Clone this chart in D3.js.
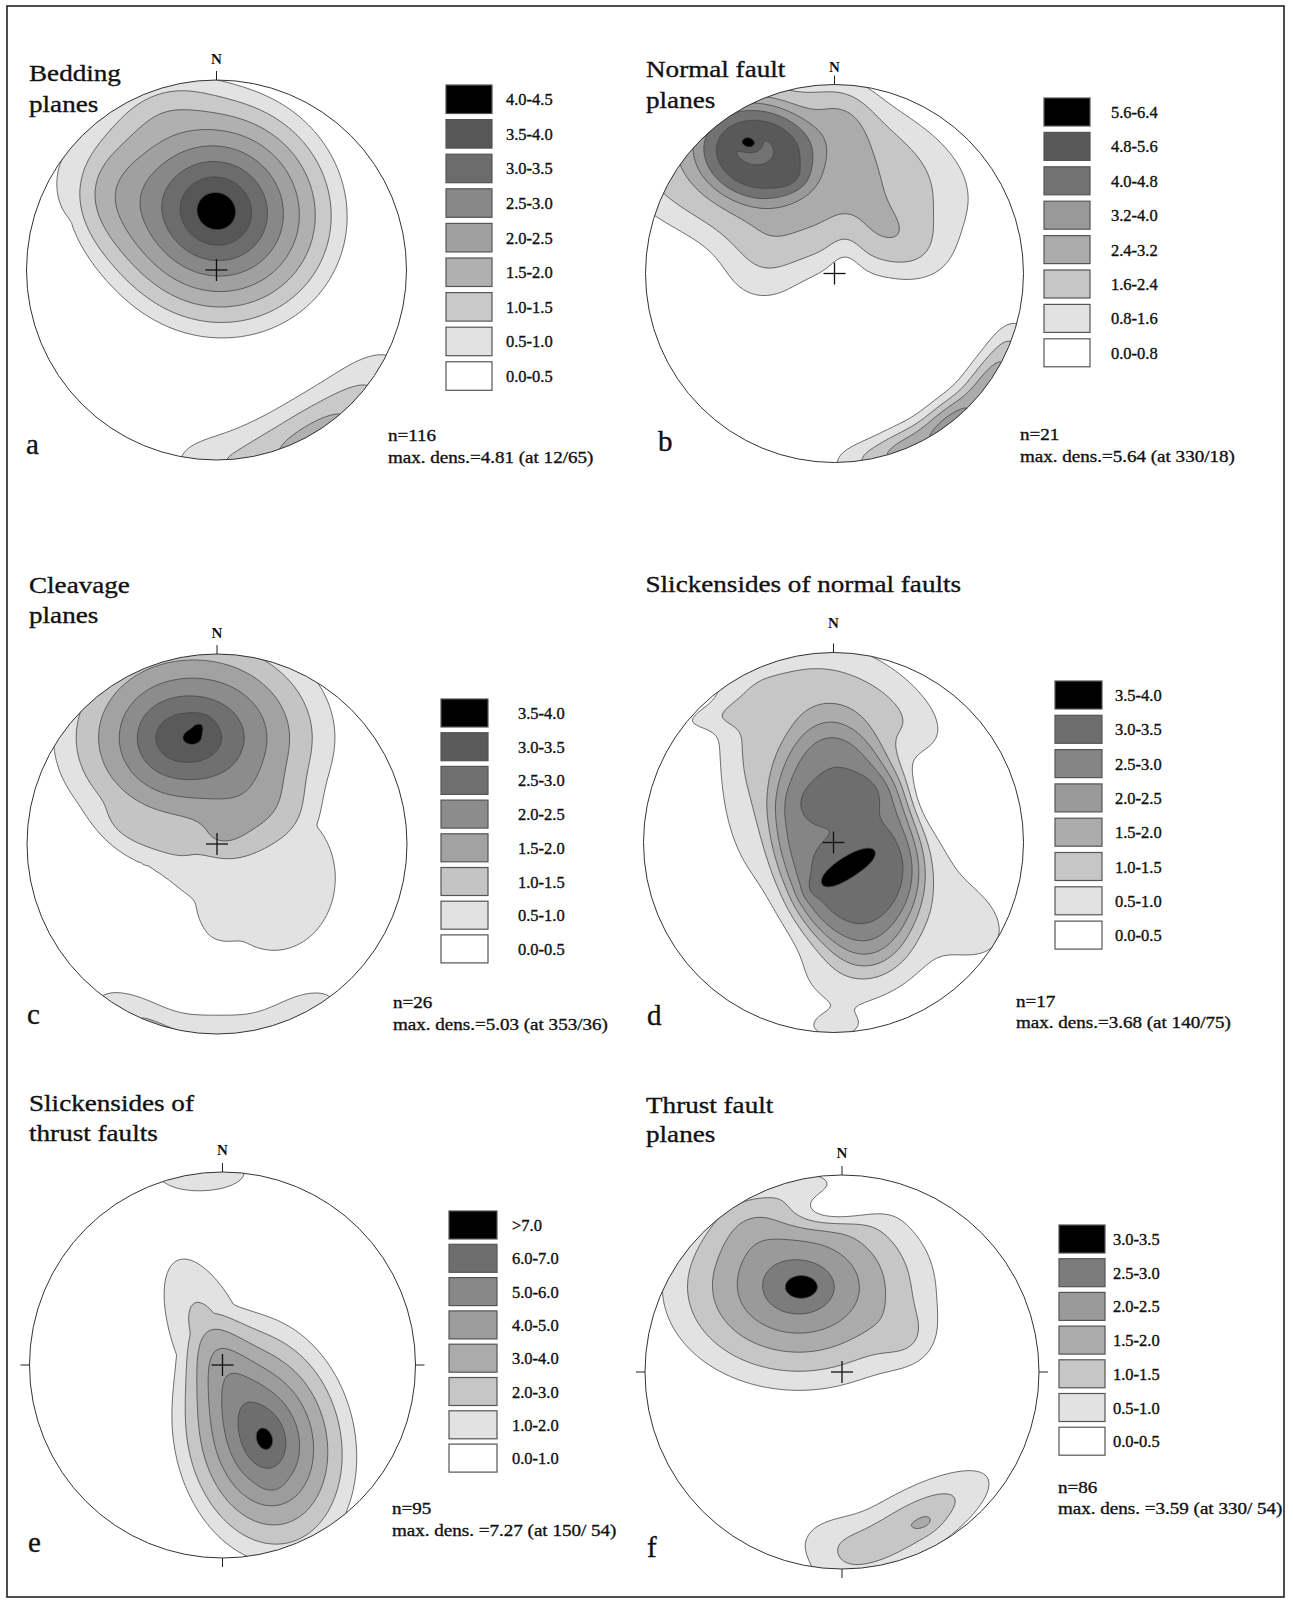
<!DOCTYPE html>
<html><head><meta charset="utf-8">
<script src="https://cdn.jsdelivr.net/npm/d3@7"></script>
<style>
body{margin:0;background:#fff}
svg{display:block}
text{font-family:"Liberation Serif","Times New Roman",serif;fill:#111;stroke:#111;stroke-width:0.35px}
</style>
</head><body>
<svg id="chart" width="1293" height="1602"></svg>
<script>
// ---------------- DATA ----------------
// pole-density concentrations read from each net:
// [x, y (unit net coords, y down), weight, spreadX, spreadY, rotationDeg, shape (>0 gaussian power, -1 cone)]
const kernelsA = [
  [0.00,-0.31, 4.6, 0.78,0.74, 28, -1],
  [-0.66,-0.45, 0.75, 0.20,0.26, 0, 1],
  [-0.33,-0.90, 0.5, 0.22,0.12, -20, 1],
  [0.79,0.66, 0.8, 0.24,0.15, 130, 1],
  [0.52,0.88, 1.2, 0.22,0.15, 150, 1],
  [0.18,1.00, 0.85, 0.24,0.14, 170, 1],
  [-0.10,1.00, 0.3, 0.15,0.10, 5, 1]
];
const kernelsB = [
  [-0.41,-0.64, 2.8, 0.27,0.22, 15, 2],
  [-0.27,-0.56, 2.6, 0.80,0.40, 12, 2],
  [-0.42,-0.65,-0.75, 0.12,0.09, 15, 2],
  [-0.455,-0.693, 1.5, 0.035,0.025, 10, 1],
  [-0.225,-0.50, 0.4, 0.07,0.05, 0, 1],
  [-0.38,-0.02, 1.1, 0.18,0.16, 0, 1],
  [0.38,-0.12, 1.0, 0.18,0.13, 20, 1],
  [0.06,-0.10,-0.6, 0.07,0.12, 0, 1],
  [0.05,-0.85, 0.7, 0.12,0.15, 0, 1],
  [0.819,0.574, 2.4, 0.14,0.085, 125, 1],
  [0.616,0.788, 3.0, 0.14,0.085, 142, 1],
  [0.375,0.927, 2.2, 0.14,0.085, 158, 1],
  [0.927,0.375, 1.1, 0.12,0.08, 112, 1],
  [0.139,0.990, 1.1, 0.14,0.08, 172, 1]
];
const kernelsC = [
  [-0.086,-0.63, 0.25, 0.035,0.03, 0, 1],
  [-0.12,-0.56, 3.6, 0.86,0.70, 0, -1],
  [-0.30,-0.55, 0.25, 0.12,0.15, 0, 1],
  [0.30,0.18, 0.75, 0.34,0.40, 0, 2],
  [-0.32,0.08, 0.5, 0.32,0.12, 35, 2],
  [-0.02,0.42, 0.3, 0.12,0.10, 0, 2],
  [-0.05,0.00, 0.3, 0.15,0.07, 0, 1],
  [-0.42,0.91, 0.9, 0.20,0.09, 25, 1],
  [0.00,1.00, 0.85, 0.22,0.09, 0, 1],
  [0.42,0.91, 0.85, 0.20,0.09, 155, 1]
];
const kernelsD = [
  [0.07,0.00, 2.2, 0.34,0.56, -13, 3],
  [-0.05,-0.15, 0.75, 0.42,0.80, -13, 2],
  [0.03,-0.75, 0.7, 0.30,0.20, -10, 1],
  [-0.45,-0.82, 0.2, 0.30,0.12, -20, 1],
  [0.40,-0.62, 0.55, 0.20,0.13, 30, 1],
  [-0.62,-0.66, 0.4, 0.20,0.05, -10, 1],
  [-0.45,-0.40, 0.45, 0.12,0.35, 0, 1],
  [0.20,0.65, 0.5, 0.30,0.15, -20, 1],
  [0.00,0.98, 0.45, 0.16,0.07, 0, 1],
  [0.55,0.20, 0.5, 0.20,0.30, -30, 1],
  [0.75,0.45, 0.45, 0.15,0.12, 40, 1],
  [0.50,-0.25,-0.4, 0.08,0.12, 0, 1],
  [0.06,-0.25, 0.4, 0.17,0.07, -10, 1],
  [0.15,0.22, 0.35, 0.27,0.20, -20, 2],
  [0.045,0.145, 0.45, 0.16,0.048, -34, 1.5]
];
const kernelsE = [
  [0.225,0.39, 6.7, 0.53,0.72, -12, -1],
  [-0.07,-0.14, 1.9, 0.12,0.30, -22, 1],
  [0.08,0.20, 0.65, 0.30,0.70, -20, 1],
  [0.255,0.61, 0.4, 0.04,0.03, 0, 1],
  [-0.10,-1.00, 1.5, 0.22,0.09, 0, 1]
];
const kernelsF = [
  [-0.19,-0.433, 0.4, 0.05,0.035, 0, 1],
  [-0.22,-0.43, 3.2, 0.82,0.62, 0, -1],
  [-0.48,-0.78, 0.35, 0.14,0.14, 0, 1],
  [-0.02,-0.84,-1.0, 0.15,0.06, -10, 1],
  [-0.22,-0.97, 0.4, 0.12,0.05, 0, 1],
  [0.36,-0.15, 0.5, 0.12,0.12, 0, 1],
  [0.34,0.78, 1.0, 0.30,0.09, -32, 1],
  [0.30,0.78, 0.45, 0.40,0.20, -25, 1],
  [-0.05,0.86, 0.45, 0.15,0.10, 0, 1],
  [0.43,0.77, 0.25, 0.05,0.03, -30, 1]
];

const levelsA = [0.5,1.0,1.5,2.0,2.5,3.0,3.5,4.0];
const levelsB = [0.8,1.6,2.4,3.2,4.0,4.8,5.6];
const levelsC = [0.5,1.0,1.5,2.0,2.5,3.0,3.5];
const levelsD = [0.5,1.0,1.5,2.0,2.5,3.0,3.5];
const levelsE = [1,2,3,4,5,6,7];
const levelsF = [0.5,1.0,1.5,2.0,2.5,3.0];

const labelsA = ["4.0-4.5","3.5-4.0","3.0-3.5","2.5-3.0","2.0-2.5","1.5-2.0","1.0-1.5","0.5-1.0","0.0-0.5"];
const labelsB = ["5.6-6.4","4.8-5.6","4.0-4.8","3.2-4.0","2.4-3.2","1.6-2.4","0.8-1.6","0.0-0.8"];
const labelsC = ["3.5-4.0","3.0-3.5","2.5-3.0","2.0-2.5","1.5-2.0","1.0-1.5","0.5-1.0","0.0-0.5"];
const labelsD = ["3.5-4.0","3.0-3.5","2.5-3.0","2.0-2.5","1.5-2.0","1.0-1.5","0.5-1.0","0.0-0.5"];
const labelsE = [">7.0","6.0-7.0","5.0-6.0","4.0-5.0","3.0-4.0","2.0-3.0","1.0-2.0","0.0-1.0"];
const labelsF = ["3.0-3.5","2.5-3.0","2.0-2.5","1.5-2.0","1.0-1.5","0.5-1.0","0.0-0.5"];

const titles = [["Bedding","planes"],["Normal fault","planes"],["Cleavage","planes"],["Slickensides of normal faults"],["Slickensides of","thrust faults"],["Thrust fault","planes"]];
const letters = ["a","b","c","d","e","f"];
const counts = ["n=116","n=21","n=26","n=17","n=95","n=86"];
const maxima = ["max. dens.=4.81 (at 12/65)","max. dens.=5.64 (at 330/18)","max. dens.=5.03 (at 353/36)","max. dens.=3.68 (at 140/75)","max. dens. =7.27 (at 150/ 54)","max. dens. =3.59 (at 330/ 54)"];

// ---------------- STYLE / LAYOUT ----------------
const colorsA = ["#ffffff","#e2e2e2","#c9c9c9","#b0b0b0","#a0a0a0","#888888","#6c6c6c","#575757","#000000"];
const colorsB = ["#ffffff","#e2e2e2","#c6c6c6","#ababab","#999999","#727272","#595959","#000000"];
const colorsC = ["#ffffff","#e2e2e2","#c4c4c4","#a2a2a2","#8c8c8c","#707070","#5a5a5a","#000000"];
const colorsD = ["#ffffff","#e2e2e2","#c6c6c6","#acacac","#9a9a9a","#858585","#6e6e6e","#000000"];
const colorsE = ["#ffffff","#e2e2e2","#c6c6c6","#ababab","#9c9c9c","#888888","#6e6e6e","#000000"];
const colorsF = ["#ffffff","#e2e2e2","#c6c6c6","#ababab","#9a9a9a","#7c7c7c","#000000"];

const layout = [
 {cx:216.5,cy:270,r:190, tx:29, ty:[81,111.5], ny:64, lx:446, ly:85, ls:34.6, lw:46, lh:28.5, lt:506, ax:26, ay:454, nx:388, nty:[441,463], four:false},
 {cx:834.5,cy:273.5,r:189, tx:646, ty:[77,108], ny:72, lx:1044, ly:98, ls:34.4, lw:46, lh:28, lt:1111, ax:658, ay:451, nx:1020, nty:[440,462], four:false},
 {cx:217,cy:844,r:190, tx:29, ty:[593,623], ny:638, lx:441, ly:699, ls:33.7, lw:47, lh:28, lt:518, ax:27, ay:1024, nx:393, nty:[1008,1030], four:false},
 {cx:833.5,cy:842.5,r:190, tx:645.5, ty:[592], ny:628, lx:1055, ly:681, ls:34.3, lw:47, lh:28, lt:1115, ax:647, ay:1025, nx:1016, nty:[1007,1028], four:false},
 {cx:222.5,cy:1365,r:193, tx:29, ty:[1111,1141], ny:1155, lx:449, ly:1211, ls:33.3, lw:48, lh:28, lt:512, ax:28, ay:1552, nx:392, nty:[1514,1536], four:true},
 {cx:842,cy:1372,r:197, tx:646, ty:[1113,1142], ny:1158, lx:1059, ly:1225, ls:33.7, lw:46, lh:28, lt:1113, ax:647, ay:1557, nx:1058, nty:[1493,1514], four:true}
];

const panels = [
 {kernels:kernelsA, levels:levelsA, labels:labelsA, colors:colorsA},
 {kernels:kernelsB, levels:levelsB, labels:labelsB, colors:colorsB},
 {kernels:kernelsC, levels:levelsC, labels:labelsC, colors:colorsC},
 {kernels:kernelsD, levels:levelsD, labels:labelsD, colors:colorsD},
 {kernels:kernelsE, levels:levelsE, labels:labelsE, colors:colorsE},
 {kernels:kernelsF, levels:levelsF, labels:labelsF, colors:colorsF}
];

// ---------------- DRAW ----------------
const svg = d3.select("#chart");
svg.append("rect").attr("x",7).attr("y",6).attr("width",1277).attr("height",1591)
   .attr("fill","none").attr("stroke","#222").attr("stroke-width",1.6);

function density(ks,u,v){
  let s=0;
  for(const [ku,kv,w,sx,sy,rot,p] of ks){
    const a=rot*Math.PI/180, du=u-ku, dv=v-kv;
    const x=(du*Math.cos(a)+dv*Math.sin(a))/sx;
    const y=(-du*Math.sin(a)+dv*Math.cos(a))/sy;
    const q=x*x+y*y;
    if(p<0) s+=w*Math.max(0,1-Math.sqrt(q));
    else s+=w*Math.exp(-0.5*Math.pow(q,p));
  }
  return s;
}
function stretch(sel,k){
  sel.each(function(){
    const l=this.getComputedTextLength();
    this.setAttribute("textLength",l*k);
    this.setAttribute("lengthAdjust","spacingAndGlyphs");
  });
}

const N=140, EXT=1.08;
panels.forEach((p,i)=>{
  const L=layout[i];
  const g=svg.append("g");
  const x=d3.scaleLinear().domain([-1,1]).range([L.cx-L.r,L.cx+L.r]);
  const y=d3.scaleLinear().domain([-1,1]).range([L.cy-L.r,L.cy+L.r]);
  const gridU=d3.scaleLinear().domain([0,N]).range([-EXT,EXT]);
  const values=new Float64Array(N*N);
  for(let j=0;j<N;j++)for(let k=0;k<N;k++)
    values[j*N+k]=density(p.kernels,gridU(k+0.5),gridU(j+0.5));
  const contours=d3.contours().size([N,N]).thresholds(p.levels)(values);
  const proj=d3.geoTransform({point(px,py){this.stream.point(x(gridU(px)),y(gridU(py)));}});
  const path=d3.geoPath(proj);
  const cid="clip"+letters[i];
  g.append("clipPath").attr("id",cid).append("circle").attr("cx",x(0)).attr("cy",y(0)).attr("r",L.r);
  g.append("g").attr("clip-path",`url(#${cid})`)
   .selectAll("path").data(contours).join("path")
   .attr("d",path).attr("fill",(d,k)=>p.colors[k+1])
   .attr("stroke","#474747").attr("stroke-width",0.8).attr("stroke-linejoin","round");
  g.append("circle").attr("cx",x(0)).attr("cy",y(0)).attr("r",L.r)
   .attr("fill","none").attr("stroke","#333").attr("stroke-width",1);
  g.append("line").attr("x1",x(0)-11).attr("x2",x(0)+11).attr("y1",y(0)).attr("y2",y(0)).attr("stroke","#111").attr("stroke-width",1.3);
  g.append("line").attr("x1",x(0)).attr("x2",x(0)).attr("y1",y(0)-11).attr("y2",y(0)+11).attr("stroke","#111").attr("stroke-width",1.3);
  const tk=[[0,-1,0,-1]];
  if(L.four){tk.push([-1,0,-1,0],[1,0,1,0],[0,1,0,1]);}
  tk.forEach(([ux,uy,dx,dy])=>{
    g.append("line").attr("x1",x(ux)).attr("y1",y(uy)).attr("x2",x(ux)+dx*9).attr("y2",y(uy)+dy*9)
     .attr("stroke","#222").attr("stroke-width",1);
  });
  g.append("text").attr("x",x(0)).attr("y",L.ny).attr("text-anchor","middle").attr("font-size",15).attr("font-weight","bold").style("stroke-width","0px").text("N");
  titles[i].forEach((t,k)=>{
    g.append("text").attr("x",L.tx).attr("y",L.ty[k]).attr("font-size",24).text(t).call(stretch,1.13);
  });
  g.append("text").attr("x",L.ax).attr("y",L.ay).attr("font-size",29).text(letters[i]);
  g.append("text").attr("x",L.nx).attr("y",L.nty[0]).attr("font-size",17).text(counts[i]).call(stretch,1.12);
  g.append("text").attr("x",L.nx).attr("y",L.nty[1]).attr("font-size",17).text(maxima[i]).call(stretch,1.12);
  const nC=p.colors.length;
  p.labels.forEach((lab,k)=>{
    const col=p.colors[nC-1-k];
    const yy=L.ly+k*L.ls;
    g.append("rect").attr("x",L.lx).attr("y",yy).attr("width",L.lw).attr("height",L.lh)
     .attr("fill",col).attr("stroke","#555").attr("stroke-width",1.2);
    g.append("text").attr("x",L.lt).attr("y",yy+L.lh/2+6).attr("font-size",16).text(lab).call(stretch,1.03);
  });
});
</script>
</body></html>
